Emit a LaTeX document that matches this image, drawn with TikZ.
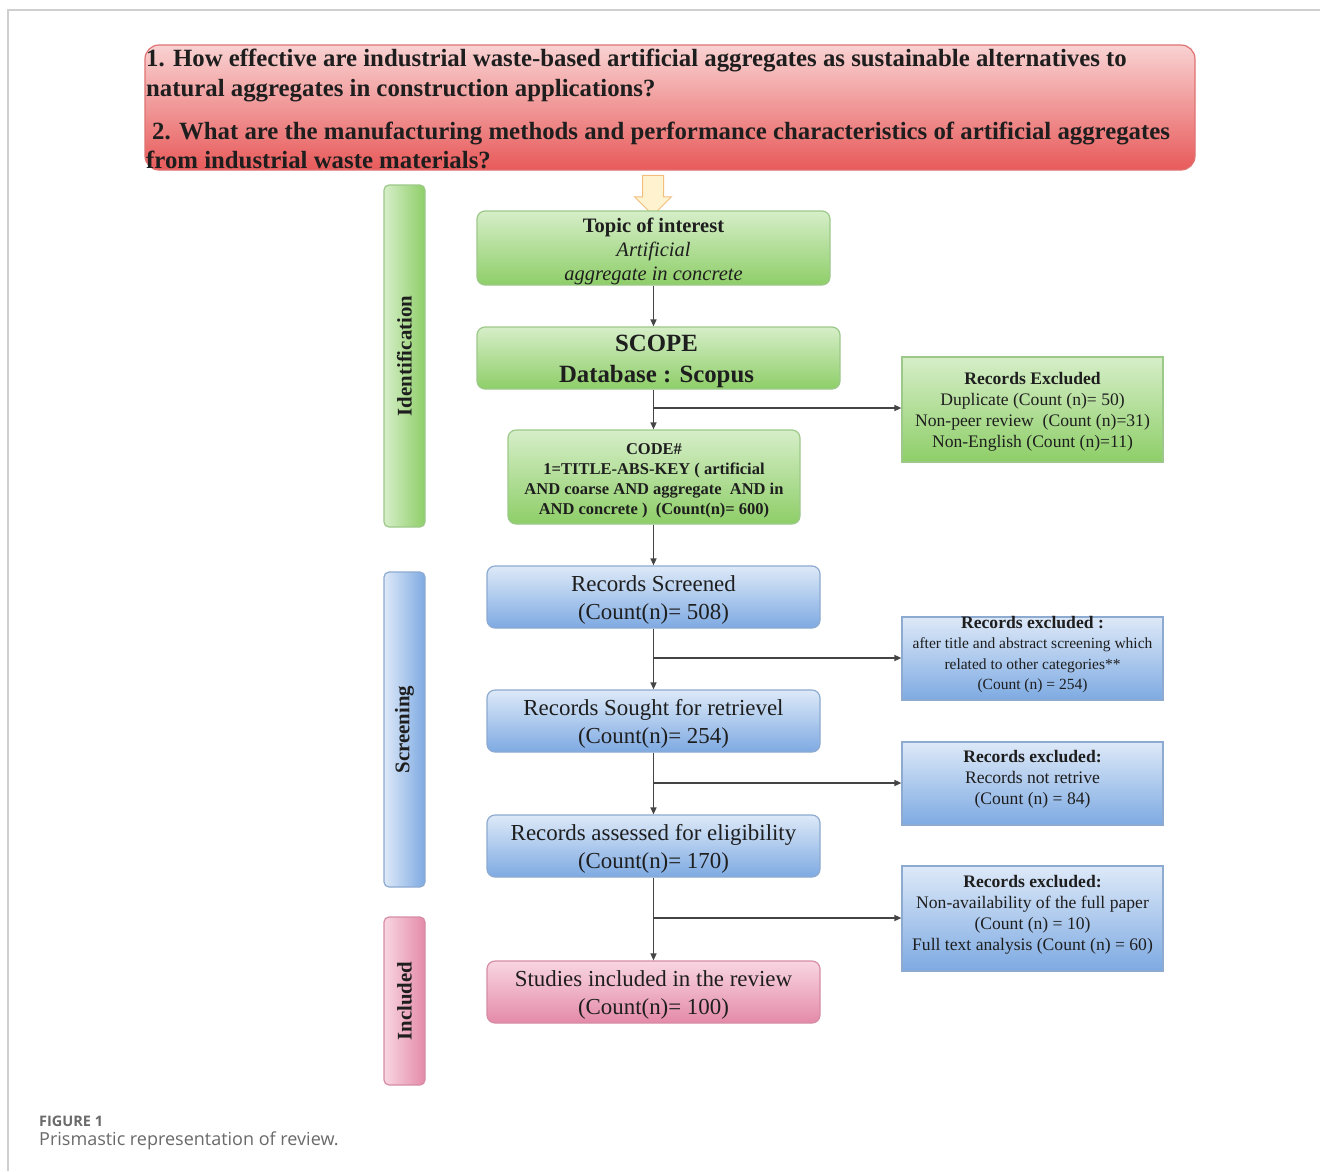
\documentclass[tikz,border=0pt]{standalone}
\usepackage{fontspec}
\setmainfont{Liberation Serif}
\newfontfamily\capfont{Open Sans}
\usetikzlibrary{arrows.meta,shapes.arrows,calc}
\definecolor{gtop}{HTML}{D6EEC8}
\definecolor{gbot}{HTML}{8ECE68}
\definecolor{gline}{HTML}{9CC98A}
\definecolor{btop}{HTML}{DDE9F8}
\definecolor{bbot}{HTML}{7EAAE2}
\definecolor{bline}{HTML}{8DAAD0}
\definecolor{ptop}{HTML}{F8D6E1}
\definecolor{pbot}{HTML}{E48AA8}
\definecolor{pline}{HTML}{D68CA4}
\definecolor{rtop}{HTML}{F9D2D2}
\definecolor{rbot}{HTML}{E85A5A}
\definecolor{rline}{HTML}{E07272}
\definecolor{txt}{HTML}{1E1E1E}
\definecolor{arr}{HTML}{444444}
\definecolor{frame}{HTML}{CFCFCF}
\definecolor{captxt}{HTML}{6A6A6A}
\definecolor{yfill}{HTML}{FFF3CF}
\definecolor{yline}{HTML}{F2BE7E}
\tikzset{
  base/.style={inner sep=0pt, align=center, text=txt},
  gbox/.style={base, draw=gline, line width=1.2pt, rounded corners=8pt, top color=gtop, bottom color=gbot},
  bbox/.style={base, draw=bline, line width=1.2pt, rounded corners=8pt, top color=btop, bottom color=bbot},
  pbox/.style={base, draw=pline, line width=1.2pt, rounded corners=8pt, top color=ptop, bottom color=pbot},
  gex/.style={base, draw=gline, line width=1.2pt, top color=gtop, bottom color=gbot},
  bex/.style={base, draw=bline, line width=1.2pt, top color=btop, bottom color=bbot},
  gbar/.style={base, draw=gline, line width=1.2pt, rounded corners=5pt, left color=gtop, right color=gbot},
  bbar/.style={base, draw=bline, line width=1.2pt, rounded corners=5pt, left color=btop, right color=bbot},
  pbar/.style={base, draw=pline, line width=1.2pt, rounded corners=5pt, left color=ptop, right color=pbot},
  conn/.style={draw=arr, line width=1.4pt, -{Triangle[length=7pt,width=6pt]}},
  cnt/.style={base, font=\fontsize{22.9}{28}\selectfont},
  exf/.style={base, font=\fontsize{17.6}{21}\selectfont},
  barlbl/.style={base, rotate=90, font=\fontsize{20.8}{22}\selectfont\bfseries},
}
\begin{document}
\begin{tikzpicture}[x=1pt,y=-1pt]
\useasboundingbox (0,0) rectangle (1320,1171);
\fill[white] (0,0) rectangle (1320,1171);
% frame
\coordinate (f0) at (8,1171);
\coordinate (f1) at (8,10);
\coordinate (f2) at (1320,10);
\draw[frame, line width=1.2pt] (f0) -- (f1) -- (f2);

% title
\node[base, draw=rline, line width=1.2pt, rounded corners=14pt, top color=rtop, bottom color=rbot,
  minimum width=1050pt, minimum height=125pt] (title) at (670,107.5) {};
\node[base, align=left, anchor=west, font=\fontsize{24.8}{30}\selectfont\bfseries] (q1) at (146,75.5)
 {1. How effective are industrial waste-based artificial aggregates as sustainable alternatives to\\
  natural aggregates in construction applications?};
\node[base, align=left, anchor=west, font=\fontsize{24.8}{29}\selectfont\bfseries] (q2) at (146,145.5)
 {\hspace{6pt}2. What are the manufacturing methods and performance characteristics of artificial aggregates\\
  from industrial waste materials?};

% hollow arrow
\node[single arrow, draw=yline, fill=yfill, line width=1pt, rotate=-90,
  minimum height=40pt, minimum width=36pt, inner sep=10pt, single arrow head extend=8pt, single arrow head indent=0pt] (ya) at (653,190) {};

% side bars
\node[gbar, minimum width=41pt, minimum height=342pt] (idbar) at (404.5,356) {};
\node[barlbl] (idlbl) at (idbar.center) {Identification};
\node[bbar, minimum width=41pt, minimum height=315pt] (scbar) at (404.5,729.5) {};
\node[barlbl] (sclbl) at (scbar.center) {Screening};
\node[pbar, minimum width=41pt, minimum height=168pt] (inbar) at (404.5,1001) {};
\node[barlbl] (inlbl) at (inbar.center) {Included};

% main column
\node[gbox, minimum width=353pt, minimum height=74pt] (topic) at (653.5,248) {};
\node[base, font=\fontsize{20.5}{24}\selectfont] (topicT) at ($(topic.center)+(0,3.5)$)
 {\textbf{Topic of interest}\\ \textit{Artificial}\\ \textit{aggregate in concrete}};
\node[gbox, minimum width=363pt, minimum height=62pt] (scope) at (658.5,358) {};
\node[base, font=\fontsize{24.8}{31}\selectfont\bfseries] (scopeT) at ($(scope.center)+(-2,3)$)
 {SCOPE\\ Database : Scopus};
\node[gbox, minimum width=292pt, minimum height=94pt] (code) at (654,477) {};
\node[base, font=\fontsize{16.5}{20}\selectfont\bfseries] (codeT) at ($(code.center)+(0,4)$)
 {CODE\#\\ 1=TITLE-ABS-KEY ( artificial\\ AND coarse AND aggregate \ AND in\\ AND concrete ) \ (Count(n)= 600)};
\node[bbox, minimum width=333pt, minimum height=62pt] (scr) at (653.5,597) {};
\node[cnt] (scrT) at ($(scr.center)+(0,3)$) {Records Screened\\ (Count(n)= 508)};
\node[bbox, minimum width=333pt, minimum height=62pt] (sou) at (653.5,721) {};
\node[cnt] (souT) at ($(sou.center)+(0,3)$) {Records Sought for retrievel\\ (Count(n)= 254)};
\node[bbox, minimum width=333pt, minimum height=62pt] (ass) at (653.5,846) {};
\node[cnt] (assT) at ($(ass.center)+(0,3)$) {Records assessed for eligibility\\ (Count(n)= 170)};
\node[pbox, minimum width=333pt, minimum height=62pt] (inc) at (653.5,992) {};
\node[cnt] (incT) at ($(inc.center)+(0,3)$) {Studies included in the review\\ (Count(n)= 100)};

% exclusion boxes
\node[gex, minimum width=261pt, minimum height=105pt] (ex1) at (1032.5,409.5) {};
\node[exf] (ex1T) at ($(ex1.center)+(0,2)$)
 {\textbf{Records Excluded}\\ Duplicate (Count (n)= 50)\\ Non-peer review \ (Count (n)=31)\\ Non-English (Count (n)=11)};
\node[bex, minimum width=261pt, minimum height=83pt] (ex2) at (1032.5,658.5) {};
\node[base, font=\fontsize{15.5}{20.5}\selectfont] (ex2T) at ($(ex2.center)+(0,-4)$)
 {{\fontsize{17.6}{20}\selectfont\textbf{Records excluded :}}\\ after title and abstract screening which\\ related to other categories**\\ (Count (n) = 254)};
\node[bex, minimum width=261pt, minimum height=83pt] (ex3) at (1032.5,783.5) {};
\node[exf] (ex3T) at ($(ex3.center)+(0,-4)$)
 {\textbf{Records excluded:}\\ Records not retrive\\ (Count (n) = 84)};
\node[bex, minimum width=261pt, minimum height=105pt] (ex4) at (1032.5,918.5) {};
\node[exf] (ex4T) at ($(ex4.center)+(0,-4)$)
 {\textbf{Records excluded:}\\ Non-availability of the full paper\\ (Count (n) = 10)\\ Full text analysis (Count (n) = 60)};

% connectors
\draw[conn] (topic.south) -- (topic.south |- scope.north);
\draw[conn] (topic.south |- scope.south) -- (topic.south |- code.north);
\draw[conn] (topic.south |- code.south) -- (topic.south |- scr.north);
\draw[conn] (scr.south) -- (sou.north);
\draw[conn] (sou.south) -- (ass.north);
\draw[conn] (ass.south) -- (inc.north);
\coordinate (b1) at (653.5,408);
\coordinate (b2) at (653.5,658);
\coordinate (b3) at (653.5,783);
\coordinate (b4) at (653.5,918);
\draw[conn] (b1) -- (b1 -| ex1.west);
\draw[conn] (b2) -- (b2 -| ex2.west);
\draw[conn] (b3) -- (b3 -| ex3.west);
\draw[conn] (b4) -- (b4 -| ex4.west);

% caption
\node[base, anchor=west, text=captxt, font=\capfont\fontsize{14.5}{16}\selectfont\bfseries] (fig) at (39,1121) {FIGURE 1};
\node[base, anchor=west, text=captxt, font=\capfont\fontsize{18}{20}\selectfont] (cap) at (39,1141) {Prismastic representation of review.};
\end{tikzpicture}
\end{document}
